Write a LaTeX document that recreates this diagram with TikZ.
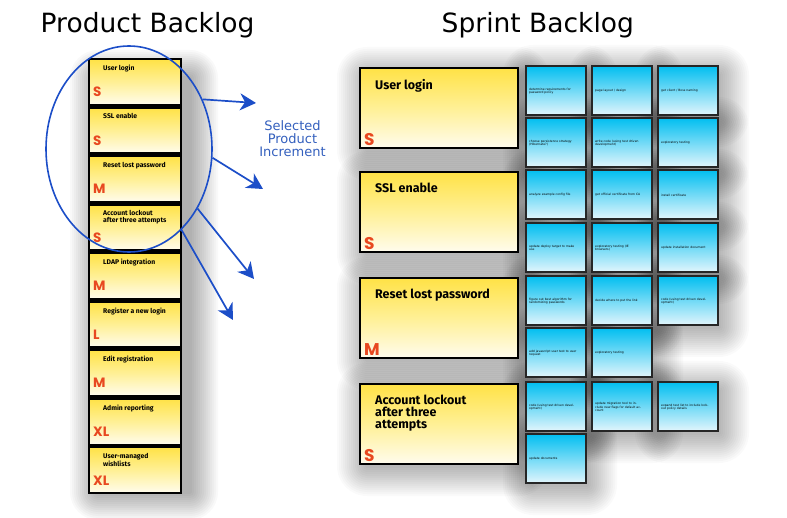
\documentclass[tikz,border=0pt]{standalone}
\usepackage{fontspec}
\setmainfont{DejaVu Sans}
\newfontfamily\cardfont{Fira Sans}
\newfontfamily\sizefont{Poppins}
\usetikzlibrary{shapes.geometric,arrows.meta}
\definecolor{yeltop}{RGB}{255,226,70}
\definecolor{yelmid}{RGB}{255,240,150}
\definecolor{yelbot}{RGB}{255,252,238}
\definecolor{bluetop}{RGB}{0,190,240}
\definecolor{bluebot}{RGB}{225,245,252}
\definecolor{sizered}{RGB}{232,72,32}
\definecolor{penblue}{RGB}{28,78,200}
\definecolor{txtblue}{RGB}{52,96,190}
\newcommand\softsh[6]{\foreach \k [evaluate=\k as \r using 2*\k] in {1,...,#6}{\fill[black,fill opacity=#5,rounded corners=\r pt] ({#1-2*\k},{#2-2*\k}) rectangle ({#3+2*\k},{#4+2*\k});}}
\newcommand\bsh[2]{\softsh{#1+8}{#2+10}{#1+62}{#2+52}{0.019}{15}}
\newcommand\ysh[2]{\softsh{#1+8}{#2+10}{#1+160}{#2+83}{0.019}{15}}
\tikzset{
  pcard/.style={draw=black,line width=2.3pt,top color=yeltop,bottom color=yelbot,middle color=yelmid,minimum width=92pt,minimum height=46pt,anchor=north west,inner sep=0pt},
  scard/.style={draw=black,line width=2.3pt,top color=yeltop,bottom color=yelbot,middle color=yelmid,minimum width=158pt,minimum height=80pt,anchor=north west,inner sep=0pt},
  bcardst/.style={draw=black!85,line width=1.6pt,top color=bluetop,bottom color=bluebot,minimum width=60pt,minimum height=49pt,anchor=north west,inner sep=0pt},
  ptitle/.style={font=\cardfont\bfseries\fontsize{6.8}{6.2}\selectfont,anchor=north west,inner sep=0pt,align=left},
  stitle/.style={font=\cardfont\bfseries\fontsize{12.5}{12}\selectfont,anchor=north west,inner sep=0pt,align=left},
  psize/.style={font=\sizefont\bfseries\fontsize{13.5}{14}\selectfont,text=sizered,anchor=base west,inner sep=0pt},
  ssize/.style={font=\sizefont\bfseries\fontsize{17}{17}\selectfont,text=sizered,anchor=base west,inner sep=0pt},
  btext/.style={font=\fontsize{3}{3.4}\selectfont,anchor=west,inner sep=0pt,text width=48pt,align=left},
  heading/.style={font=\fontsize{26.5}{30}\selectfont,anchor=base west,inner sep=0pt},
  penarrow/.style={draw=penblue,line width=1.7pt,-{Stealth[length=16pt,width=17pt,inset=5pt]}}
}
\newcommand\prodcard[4]{%
  \node[pcard] (#1) at (88,#2) {};
  \node[ptitle] (#1t) at ([xshift=15pt,yshift=-7pt]#1.north west) {#3};
  \node[psize] (#1s) at ([xshift=5pt,yshift=-39pt]#1.north west) {#4};}
\newcommand\storycard[4]{%
  \node[scard] (#1) at (359,#2) {};
  \node[stitle] (#1t) at ([xshift=16pt,yshift=-12pt]#1.north west) {#3};
  \node[ssize] (#1s) at ([xshift=5pt,yshift=4pt]#1.south west) {#4};}
\newcommand\taskcard[4]{%
  \node[bcardst] (#1) at (#2,#3) {};
  \node[btext] (#1t) at ([xshift=4pt,yshift=-26pt]#1.north west) {#4};}
\begin{document}
\begin{tikzpicture}[x=1pt,y=-1pt]
\useasboundingbox (0,0) rectangle (787,518);
\fill[white] (0,0) rectangle (787,518);
% headings
\node[heading] (h1) at (40.5,33) {Product Backlog};
\node[heading] (h2) at (441.5,33) {Sprint Backlog};
% shadows
\softsh{98}{78}{190}{492}{0.022}{14}
\ysh{359}{67}\ysh{359}{171}\ysh{359}{277}\ysh{359}{383}
\bsh{525}{65}\bsh{591}{65}\bsh{657}{65}
\bsh{525}{117}\bsh{591}{117}\bsh{657}{117}
\bsh{525}{169}\bsh{591}{169}\bsh{657}{169}
\bsh{525}{222}\bsh{591}{222}\bsh{657}{222}
\bsh{525}{275}\bsh{591}{275}\bsh{657}{275}
\bsh{525}{327}\bsh{591}{327}
\bsh{525}{381}\bsh{591}{381}\bsh{657}{381}
\bsh{525}{433}
% product backlog
\prodcard{c1}{58}{User login}{S}
\prodcard{c2}{106.5}{SSL enable}{S}
\prodcard{c3}{155}{Reset lost password}{M}
\prodcard{c4}{203.5}{Account lockout\\after three attempts}{S}
\prodcard{c5}{252}{LDAP integration}{M}
\prodcard{c6}{300.5}{Register a new login}{L}
\prodcard{c7}{349}{Edit registration}{M}
\prodcard{c8}{397.5}{Admin reporting}{XL}
\prodcard{c9}{446}{User-managed\\wishlists}{XL}
% selection ellipse and arrows
\node[ellipse,draw=penblue,line width=1.6pt,minimum width=166pt,minimum height=206pt,inner sep=0pt] (sel) at (129,149) {};
\coordinate (a1) at (256,103);
\coordinate (a2) at (263,189);
\coordinate (a3) at (254,279);
\coordinate (a4) at (233,320);
\draw[penarrow] (sel.34) -- (a1);
\draw[penarrow] (sel.-6) -- (a2);
\draw[penarrow] (sel.-41) -- (a3);
\draw[penarrow] (sel.-57) -- (a4);
\node[font=\fontsize{13}{13}\selectfont,text=txtblue,align=center,inner sep=0pt] (lbl) at (292.5,139) {Selected\\Product\\Increment};
% sprint backlog stories
\storycard{s1}{67}{User login}{S}
\storycard{s2}{171}{SSL enable}{S}
\storycard{s3}{277}{Reset lost password}{M}
\storycard{s4}{383}{Account lockout\\after three\\attempts}{S}
% tasks
\taskcard{b11}{525}{65}{determine requirements for password policy}
\taskcard{b12}{591}{65}{page layout / design}
\taskcard{b13}{657}{65}{get client / Boss naming}
\taskcard{b21}{525}{117}{choose persistence strategy (Hibernate?)}
\taskcard{b22}{591}{117}{write code (using test driven development)}
\taskcard{b23}{657}{117}{exploratory testing}
\taskcard{b31}{525}{169}{analyze example config file}
\taskcard{b32}{591}{169}{get official certificate from CA}
\taskcard{b33}{657}{169}{install certificate}
\taskcard{b41}{525}{222}{update deploy target to make use}
\taskcard{b42}{591}{222}{exploratory testing (IE browsers)}
\taskcard{b43}{657}{222}{update installation document}
\taskcard{b51}{525}{275}{figure out best algorithm for randomizing passwords}
\taskcard{b52}{591}{275}{decide where to put the link}
\taskcard{b53}{657}{275}{code (using test driven development)}
\taskcard{b61}{525}{327}{add javascript user test to user request}
\taskcard{b62}{591}{327}{exploratory testing}
\taskcard{b71}{525}{381}{code (using test driven development)}
\taskcard{b72}{591}{381}{update migration tool to include new flags for default account}
\taskcard{b73}{657}{381}{expand test list to include lockout policy details}
\taskcard{b81}{525}{433}{update documents}
\end{tikzpicture}
\end{document}
